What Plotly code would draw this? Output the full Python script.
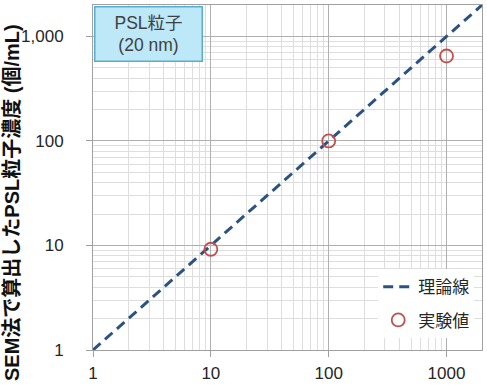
import plotly.graph_objects as go

theory_x = [1, 2000]
theory_y = [1, 2000]
exp_x = [10, 100, 1000]
exp_y = [9.2, 100, 650]

x_tickvals = [1, 10, 100, 1000]
x_ticktext = ["1", "10", "100", "1000"]
y_tickvals = [1, 10, 100, 1000]
y_ticktext = ["1", "10", "100", "1,000"]

FONT = "Liberation Sans, Arial, Noto Sans CJK JP, sans-serif"

fig = go.Figure()
fig.add_trace(go.Scatter(
    x=theory_x, y=theory_y, mode="lines", name="理論線", legendgroup="a",
    line=dict(color="#2c5282", width=3, dash="10px,6px"),
))
fig.add_trace(go.Scatter(
    x=exp_x, y=exp_y, mode="markers", name="実験値", legendgroup="b",
    marker=dict(symbol="circle-open", size=13, color="#c0504d", line=dict(width=1.8)),
))

axis_common = dict(
    type="log",
    showline=True, linecolor="#a0a0a0", linewidth=1, mirror=True,
    ticks="outside", ticklen=6, tickcolor="#a0a0a0",
    showgrid=True, gridcolor="#b0b0b0", gridwidth=1,
    minor=dict(showgrid=True, gridcolor="#dedede", dtick="D1", ticks=""),
    tickfont=dict(family=FONT, size=17, color="#262626"),
    zeroline=False,
)

fig.update_xaxes(range=[0, 3.301], tickvals=x_tickvals, ticktext=x_ticktext,
                 ticklabelstandoff=2, **axis_common)
fig.update_yaxes(range=[0, 3.301], tickvals=y_tickvals, ticktext=y_ticktext,
                 ticklabelstandoff=19, **axis_common)

# y-axis title as rotated annotation (positioned like the reference)
fig.add_annotation(
    xref="paper", yref="paper", x=0, y=0.426, xanchor="center", yanchor="middle",
    xshift=-81, textangle=-90, showarrow=False,
    text="<b>SEM法で算出したPSL粒子濃度 (個/mL)</b>",
    font=dict(family=FONT, size=20, color="#111111"),
)

fig.add_annotation(
    xref="paper", yref="paper", x=0.003, y=0.997, xanchor="left", yanchor="top",
    text="PSL粒子<br>(20 nm)", showarrow=False, align="center",
    font=dict(family=FONT, size=17.5, color="#404040"),
    bgcolor="#bde8f7", bordercolor="#5aaecd", borderwidth=1.5, borderpad=3,
    width=100, height=47,
)

fig.update_layout(
    width=487, height=390,
    margin=dict(l=93, r=5, t=5, b=40),
    paper_bgcolor="white", plot_bgcolor="white",
    showlegend=True,
    legend=dict(
        x=0.98, y=0.034, xanchor="right", yanchor="bottom",
        bgcolor="white", font=dict(family=FONT, size=17, color="#262626"),
        traceorder="grouped", tracegroupgap=8,
    ),
)

fig.write_html("out.html")
